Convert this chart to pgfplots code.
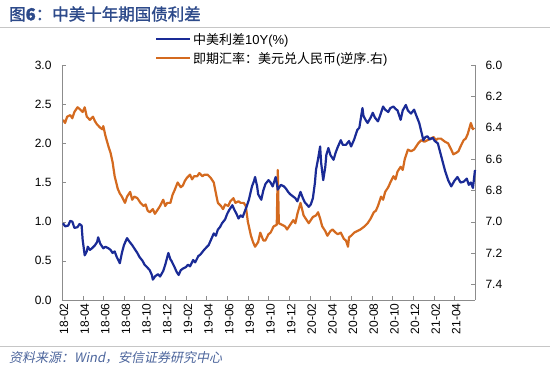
\documentclass[border=0pt]{standalone}
\usepackage{fontspec}
\setmainfont{Liberation Sans}
\newfontfamily\cjk{Noto Sans CJK SC}
\newfontfamily\cjkb[FakeBold=1.6]{Noto Sans CJK SC}
\newfontfamily\cjki[FakeSlant=0.2]{Noto Sans CJK SC}
\usepackage{pgfplots}
\pgfplotsset{compat=1.18}
\definecolor{navy}{RGB}{26,43,150}
\definecolor{orng}{RGB}{212,106,31}
\definecolor{titleblue}{RGB}{45,74,138}
\definecolor{axgray}{RGB}{140,140,140}
\pgfplotsset{numfmt/.style={/pgf/number format/fixed,/pgf/number format/fixed zerofill,/pgf/number format/precision=1,/pgf/number format/assume math mode=true}}
\begin{document}
\begin{tikzpicture}[x=1pt,y=1pt]
\useasboundingbox (0,0) rectangle (550,372);
\node[anchor=west, text=titleblue, font=\fontsize{16.5}{18}\selectfont, inner sep=0pt] at (9,358) {\cjkb 图\textbf{6}：中美十年期国债利差};
\draw[gray!45, line width=0.8pt] (0,345) -- (550,345);
\draw[gray!45, line width=0.8pt] (0,26) -- (550,26);
\node[anchor=west, text=titleblue!85, font=\fontsize{13}{15}\selectfont, inner sep=0pt] at (9,14) {\cjki 资料来源：\textit{Wind}，安信证券研究中心};
% right axis (orange)
\begin{axis}[at={(62pt,72pt)}, anchor=south west, width=413pt, height=235pt, scale only axis,
  xmin=0, xmax=40, axis x line=none,
  axis y line*=right, axis line style={-, axgray},
  y dir=reverse, ymin=6.0, ymax=7.5, ytick={6.0,6.2,6.4,6.6,6.8,7.0,7.2,7.4},
  tick align=inside, major tick length=4pt, tick style={axgray},
  yticklabel style={numfmt, font=\fontsize{12}{14}\selectfont, xshift=7pt},
  clip=false]
\addplot[orng, line width=2.2pt, line join=round] coordinates {
(0.1,6.35)(0.3,6.37)(0.5,6.33)(0.8,6.32)(1.0,6.34)(1.2,6.30)(1.5,6.27)(1.7,6.28)(2.0,6.30)(2.2,6.27)(2.4,6.33)(2.7,6.35)(3.0,6.33)(3.2,6.36)(3.4,6.38)(3.7,6.40)(3.9,6.41)(4.0,6.39)(4.2,6.45)(4.5,6.52)(4.7,6.56)(4.9,6.62)(5.1,6.71)(5.4,6.79)(5.6,6.82)(5.8,6.84)(6.1,6.88)(6.3,6.84)(6.6,6.81)(6.8,6.86)(7.0,6.84)(7.3,6.85)(7.6,6.88)(7.9,6.90)(8.1,6.89)(8.3,6.93)(8.5,6.94)(8.8,6.92)(9.0,6.95)(9.2,6.93)(9.5,6.90)(9.8,6.86)(10.0,6.90)(10.2,6.88)(10.5,6.88)(10.7,6.83)(10.9,6.80)(11.2,6.75)(11.5,6.78)(11.7,6.77)(11.9,6.74)(12.1,6.72)(12.4,6.70)(12.6,6.73)(12.8,6.71)(13.1,6.71)(13.3,6.69)(13.6,6.71)(13.8,6.70)(14.1,6.70)(14.4,6.72)(14.7,6.75)(15.0,6.85)(15.1,6.88)(15.4,6.90)(15.6,6.92)(15.8,6.89)(16.1,6.90)(16.3,6.87)(16.6,6.85)(16.8,6.88)(17.1,6.87)(17.3,6.88)(17.6,6.88)(17.8,6.90)(18.0,7.00)(18.3,7.09)(18.5,7.13)(18.7,7.16)(19.0,7.13)(19.2,7.07)(19.5,7.12)(19.7,7.12)(20.0,7.08)(20.2,7.07)(20.5,7.03)(20.8,7.02)(20.9,6.67)(21.0,7.01)(21.3,7.02)(21.6,7.03)(21.8,7.05)(22.1,7.02)(22.4,6.99)(22.6,7.01)(22.8,6.95)(23.1,6.88)(23.4,6.96)(23.6,6.98)(23.9,7.01)(24.1,6.99)(24.3,6.97)(24.6,6.96)(24.8,6.94)(25.0,6.98)(25.2,7.03)(25.5,7.06)(25.7,7.09)(26.0,7.06)(26.2,7.05)(26.5,7.07)(26.7,7.08)(27.0,7.07)(27.3,7.11)(27.5,7.12)(27.7,7.16)(27.8,7.10)(28.0,7.09)(28.3,7.07)(28.6,7.06)(28.9,7.05)(29.1,7.04)(29.3,7.03)(29.6,7.01)(29.9,6.98)(30.2,6.94)(30.4,6.93)(30.6,6.90)(30.9,6.84)(31.1,6.86)(31.3,6.81)(31.6,6.78)(31.8,6.75)(32.1,6.71)(32.3,6.73)(32.5,6.68)(32.8,6.65)(33.0,6.67)(33.2,6.60)(33.5,6.54)(33.8,6.55)(34.1,6.54)(34.3,6.52)(34.5,6.50)(34.8,6.48)(35.1,6.49)(35.4,6.48)(35.7,6.47)(36.0,6.46)(36.2,6.48)(36.4,6.47)(36.7,6.47)(36.9,6.48)(37.1,6.49)(37.4,6.50)(37.7,6.54)(37.9,6.57)(38.2,6.56)(38.4,6.55)(38.6,6.52)(38.9,6.48)(39.1,6.47)(39.3,6.44)(39.6,6.37)(39.8,6.41)(39.9,6.40)
};
\end{axis}
% left axis (blue)
\begin{axis}[at={(62pt,72pt)}, anchor=south west, width=413pt, height=235pt, scale only axis,
  xmin=0, xmax=40, ymin=0, ymax=3.0,
  axis x line*=bottom, axis y line*=left, axis line style={-, axgray},
  ytick={0,0.5,...,3.0},
  xtick={0,2,...,38},
  xticklabels={18-02,18-04,18-06,18-08,18-10,18-12,19-02,19-04,19-06,19-08,19-10,19-12,20-02,20-04,20-06,20-08,20-10,20-12,21-02,21-04},
  xticklabel style={rotate=90, anchor=east, font=\fontsize{12}{14}\selectfont, yshift=-2pt},
  tick align=inside, major tick length=4pt, tick style={axgray},
  yticklabel style={numfmt, font=\fontsize{12}{14}\selectfont, xshift=-7pt},
  legend style={at={(0.225,1.145)}, anchor=north west, draw=none, fill=none,
     font=\fontsize{13}{15}\selectfont, row sep=2.5pt, inner sep=0pt,
     /tikz/every even column/.append style={column sep=2pt}},
  legend cell align=left,
  legend image code/.code={\draw[#1, line width=2pt] (0pt,0pt) -- (34pt,0pt);},
  clip=false]
\addplot[navy, line width=2.2pt, line join=round] coordinates {
(0.1,0.98)(0.3,0.94)(0.6,0.95)(0.8,1.01)(1.0,1.00)(1.2,0.92)(1.5,0.93)(1.7,0.97)(1.9,0.95)(2.0,0.77)(2.2,0.57)(2.4,0.62)(2.5,0.68)(2.7,0.64)(2.9,0.66)(3.2,0.70)(3.4,0.74)(3.5,0.80)(3.7,0.72)(3.8,0.70)(4.0,0.66)(4.2,0.68)(4.5,0.66)(4.7,0.64)(4.9,0.60)(5.1,0.62)(5.3,0.55)(5.6,0.47)(5.8,0.60)(6.0,0.70)(6.3,0.79)(6.5,0.75)(6.8,0.70)(7.0,0.66)(7.3,0.60)(7.5,0.55)(7.8,0.50)(8.0,0.45)(8.3,0.41)(8.5,0.38)(8.7,0.32)(8.8,0.26)(9.0,0.30)(9.3,0.33)(9.5,0.30)(9.8,0.37)(10.0,0.45)(10.3,0.60)(10.5,0.52)(10.6,0.50)(10.9,0.42)(11.1,0.36)(11.3,0.32)(11.5,0.38)(11.7,0.40)(12.0,0.42)(12.2,0.45)(12.4,0.43)(12.7,0.51)(12.9,0.48)(13.2,0.56)(13.4,0.58)(13.7,0.63)(13.9,0.66)(14.2,0.70)(14.4,0.76)(14.7,0.85)(14.9,0.82)(15.1,0.90)(15.3,0.93)(15.5,0.98)(15.8,1.03)(16.0,1.10)(16.2,1.15)(16.5,1.21)(16.7,1.15)(16.9,1.10)(17.1,1.04)(17.3,1.08)(17.5,1.06)(17.7,1.13)(17.9,1.20)(18.1,1.28)(18.4,1.45)(18.6,1.52)(18.7,1.57)(18.9,1.45)(19.0,1.35)(19.3,1.28)(19.5,1.40)(19.7,1.48)(20.0,1.53)(20.2,1.50)(20.4,1.45)(20.7,1.57)(20.9,1.41)(21.2,1.47)(21.5,1.45)(21.7,1.42)(21.9,1.38)(22.1,1.35)(22.4,1.32)(22.6,1.30)(22.8,1.26)(23.1,1.38)(23.3,1.31)(23.5,1.25)(23.7,1.22)(23.9,1.19)(24.1,1.22)(24.3,1.30)(24.5,1.50)(24.6,1.66)(24.8,1.80)(25.0,1.96)(25.1,1.75)(25.3,1.53)(25.5,1.70)(25.6,1.85)(25.8,1.94)(26.0,1.85)(26.3,1.79)(26.5,1.88)(26.7,1.95)(27.0,2.04)(27.2,1.98)(27.5,1.98)(27.8,2.03)(28.0,1.96)(28.3,2.05)(28.6,2.17)(28.8,2.20)(29.1,2.45)(29.2,2.35)(29.4,2.30)(29.6,2.26)(29.9,2.33)(30.1,2.39)(30.3,2.33)(30.6,2.28)(30.8,2.35)(31.1,2.47)(31.3,2.43)(31.6,2.40)(31.8,2.45)(32.1,2.47)(32.3,2.44)(32.5,2.42)(32.8,2.30)(33.0,2.42)(33.3,2.49)(33.5,2.42)(33.8,2.38)(34.1,2.43)(34.3,2.36)(34.6,2.26)(34.8,2.15)(35.0,2.04)(35.2,2.08)(35.4,2.09)(35.6,2.05)(35.9,2.07)(36.1,2.03)(36.4,2.00)(36.6,1.90)(36.9,1.75)(37.1,1.65)(37.4,1.53)(37.7,1.45)(38.0,1.52)(38.3,1.57)(38.6,1.50)(38.9,1.51)(39.2,1.55)(39.4,1.47)(39.6,1.50)(39.8,1.43)(40.0,1.66)
};
\addlegendentry{{\cjk 中美利差}10Y(\%)}
\addlegendimage{orng}
\addlegendentry{{\cjk 即期汇率：美元兑人民币}({\cjk 逆序}.{\cjk 右})}
\end{axis}
\end{tikzpicture}
\end{document}
